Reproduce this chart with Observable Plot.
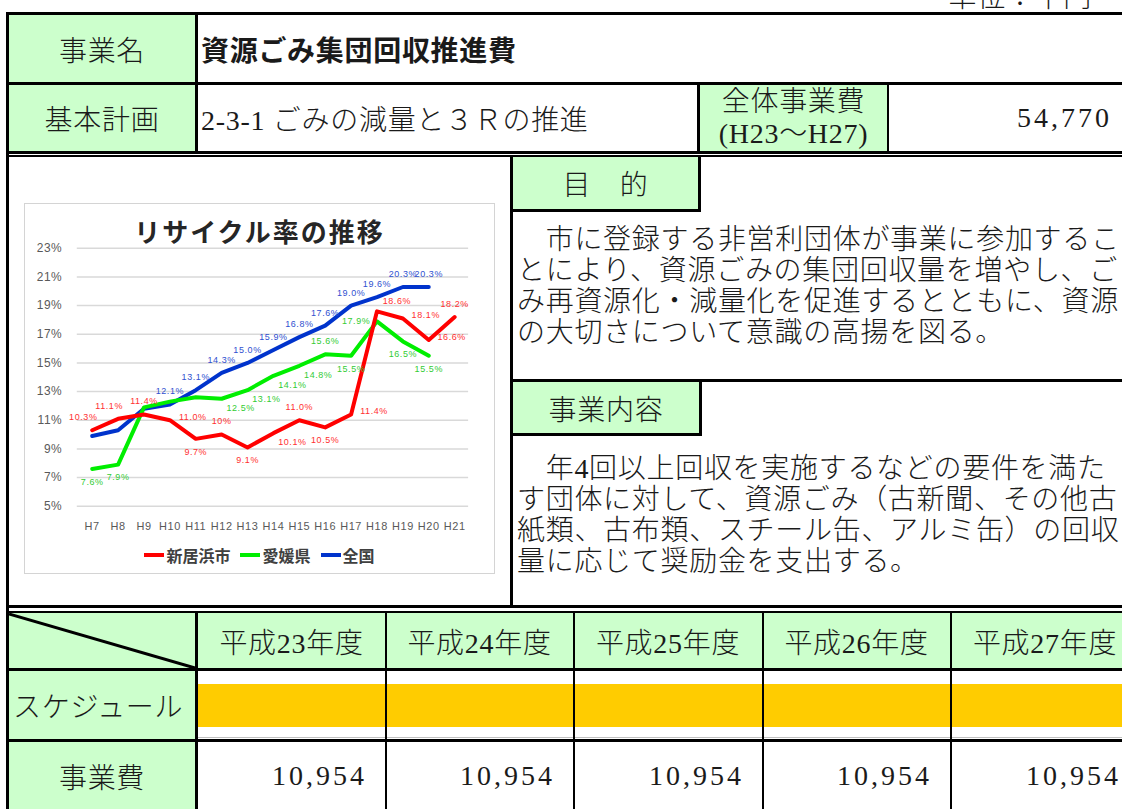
<!DOCTYPE html>
<html><head><meta charset="utf-8">
<script src="https://cdn.jsdelivr.net/npm/d3@7"></script>
<script src="https://cdn.jsdelivr.net/npm/@observablehq/plot@0.6"></script>
<style>
html,body{margin:0;padding:0;background:#fff;}
body{width:1122px;height:809px;overflow:hidden;position:relative;font-family:"Liberation Serif","Noto Sans CJK JP",serif;font-weight:300;color:#1a1a1a;font-size:28px;}
.a{position:absolute;}
.k{position:absolute;background:#000;}
.g{position:absolute;background:#ccffcc;}
.c{position:absolute;display:flex;align-items:center;justify-content:center;white-space:nowrap;letter-spacing:0.7px;}
.l{position:absolute;display:flex;align-items:center;white-space:nowrap;letter-spacing:0.7px;}
.r{position:absolute;display:flex;align-items:center;justify-content:flex-end;white-space:nowrap;letter-spacing:3px;}
#chartbox{position:absolute;left:24px;top:203px;width:471px;height:371px;box-sizing:border-box;border:1.5px solid #d4d4d4;background:#fff;}
#ctitle{position:absolute;left:0;top:8px;width:100%;text-align:center;font-family:"Noto Sans CJK JP",sans-serif;font-weight:700;font-size:26px;letter-spacing:2px;color:#262626;}
#legend{position:absolute;left:0;top:339px;width:100%;display:flex;justify-content:center;align-items:center;font-family:"Noto Sans CJK JP",sans-serif;font-weight:700;font-size:16px;color:#404040;}
#legend span.sw{display:inline-block;width:20px;height:4px;margin-right:2px;}
#legend span.item{display:inline-flex;align-items:center;margin:0 5px;}
</style></head><body>
<div id="page"></div>
<script>
// ---- chart data ----
const years = ["H7","H8","H9","H10","H11","H12","H13","H14","H15","H16","H17","H18","H19","H20","H21"];
const niihama = [10.3,11.1,11.4,11.0,9.7,10.0,9.1,10.1,11.0,10.5,11.4,18.6,18.1,16.6,18.2];
const ehime   = [7.6,7.9,11.9,12.3,12.6,12.5,13.1,14.1,14.8,15.6,15.5,17.9,16.5,15.5,null];
const zenkoku = [9.9,10.3,11.8,12.1,13.1,14.3,15.0,15.9,16.8,17.6,19.0,19.6,20.3,20.3,null];
const niihamaLabels = ["10.3%","11.1%","11.4%","11.0%","9.7%","10%","9.1%","10.1%","11.0%","10.5%","11.4%","18.6%","18.1%","16.6%","18.2%"];
const ehimeLabels   = ["7.6%","7.9%","","","","12.5%","13.1%","14.1%","14.8%","15.6%","15.5%","17.9%","16.5%","15.5%",""];
const zenkokuLabels = ["","","","12.1%","13.1%","14.3%","15.0%","15.9%","16.8%","17.6%","19.0%","19.6%","20.3%","20.3%",""];
const yTicks = [5,7,9,11,13,15,17,19,21,23];
const seriesNames = ["新居浜市","愛媛県","全国"];
const chartTitle = "リサイクル率の推移";

// ---- data-label placement (style config: which side of the point) ----
const niihamaPlace = ["tl","tl","t","r","b","t","b","br","t","b","r","tr","r","r","t"];
const ehimePlace   = ["b","b","","","","br","br","br","br","t","b","l","b","b",""];
const zenkokuPlace = ["t","t","t","t","t","t","t","t","t","t","t","t","t","t","t"];
const placeOffset = {t:[0,-13], b:[0,13], r:[23,-3], l:[-21,0], tr:[20,-10], br:[19,9], tl:[-9,-13]};

// ---- table text ----
const unitText = "単位：千円";
const projectName = "資源ごみ集団回収推進費";
const basicPlan = "2-3-1 ごみの減量と３Ｒの推進";
const totalCost = "54,770";
const purposeLines = ["　市に登録する非営利団体が事業に参加するこ","とにより、資源ごみの集団回収量を増やし、ご","み再資源化・減量化を促進するとともに、資源","の大切さについて意識の高揚を図る。"];
const contentLines = ["　年4回以上回収を実施するなどの要件を満た","す団体に対して、資源ごみ（古新聞、その他古","紙類、古布類、スチール缶、アルミ缶）の回収","量に応じて奨励金を支出する。"];
const fiscalYears = ["平成23年度","平成24年度","平成25年度","平成26年度","平成27年度"];
const yearlyCost = ["10,954","10,954","10,954","10,954","10,954"];

// ---- colours ----
const lineColors = ["#ff0000","#00ee00","#0033cc"];
const labelColors = ["#ff3030","#33cc33","#3050d0"];

// ---- layout ----
const H = [];
const add = s => H.push(s);
add(`<div class="r" style="left:850px;top:-19px;width:242px;height:28px;letter-spacing:0.7px">${unitText}</div>`);
add(`<div class="k" style="left:6px;top:12px;width:1116px;height:3px"></div>`);
add(`<div class="k" style="left:6px;top:12px;width:3px;height:797px"></div>`);
// row 1
add(`<div class="g" style="left:9px;top:15px;width:186px;height:67px"></div>`);
add(`<div class="c" style="left:9px;top:15px;width:186px;height:67px">事業名</div>`);
add(`<div class="l" style="left:201px;top:15px;height:67px;font-weight:700">${projectName}</div>`);
add(`<div class="k" style="left:195px;top:15px;width:3px;height:137px"></div>`);
add(`<div class="k" style="left:9px;top:82px;width:1113px;height:3px"></div>`);
// row 2
add(`<div class="g" style="left:9px;top:85px;width:186px;height:66px"></div>`);
add(`<div class="c" style="left:9px;top:85px;width:186px;height:66px">基本計画</div>`);
add(`<div class="l" style="left:201px;top:85px;height:66px">${basicPlan}</div>`);
add(`<div class="k" style="left:697px;top:85px;width:3px;height:66px"></div>`);
add(`<div class="g" style="left:700px;top:85px;width:187px;height:66px"></div>`);
add(`<div class="c" style="left:700px;top:85px;width:187px;height:66px;flex-direction:column;line-height:32px">全体事業費<br><span>(H23～H27)</span></div>`);
add(`<div class="k" style="left:887px;top:85px;width:2px;height:66px"></div>`);
add(`<div class="r" style="left:889px;top:85px;width:223px;height:66px">${totalCost}</div>`);
add(`<div class="k" style="left:9px;top:151px;width:1113px;height:3px"></div>`);
add(`<div class="k" style="left:9px;top:155px;width:1113px;height:2px"></div>`);
// row 3
add(`<div class="k" style="left:510px;top:157px;width:3px;height:448px"></div>`);
add(`<div class="g" style="left:513px;top:157px;width:185px;height:52px"></div>`);
add(`<div class="c" style="left:513px;top:157px;width:185px;height:52px">目　的</div>`);
add(`<div class="k" style="left:698px;top:157px;width:3px;height:55px"></div>`);
add(`<div class="k" style="left:513px;top:209px;width:188px;height:3px"></div>`);
purposeLines.forEach((t,i)=>add(`<div class="l" style="left:517px;top:${221+31*i}px;height:31px">${t}</div>`));
add(`<div class="k" style="left:513px;top:379px;width:609px;height:3px"></div>`);
add(`<div class="g" style="left:513px;top:382px;width:186px;height:51px"></div>`);
add(`<div class="c" style="left:513px;top:382px;width:186px;height:51px">事業内容</div>`);
add(`<div class="k" style="left:699px;top:382px;width:3px;height:54px"></div>`);
add(`<div class="k" style="left:513px;top:433px;width:189px;height:3px"></div>`);
contentLines.forEach((t,i)=>add(`<div class="l" style="left:517px;top:${450+31*i}px;height:31px">${t}</div>`));
add(`<div class="k" style="left:9px;top:605px;width:1113px;height:3px"></div>`);
add(`<div class="k" style="left:9px;top:611px;width:1113px;height:2px"></div>`);
// row 4
const colX = [198,386,574,763,951];
const colW = [187,187,188,187,188];
add(`<div class="g" style="left:9px;top:613px;width:1113px;height:55px"></div>`);
add(`<svg class="a" style="left:9px;top:613px" width="187" height="56"><line x1="0" y1="1" x2="186" y2="55" stroke="#000" stroke-width="3"/></svg>`);
fiscalYears.forEach((t,i)=>add(`<div class="c" style="left:${colX[i]}px;top:613px;width:${colW[i]}px;height:55px">${t}</div>`));
add(`<div class="k" style="left:9px;top:668px;width:1113px;height:3px"></div>`);
// row 5
add(`<div class="g" style="left:9px;top:671px;width:186px;height:68px"></div>`);
add(`<div class="l" style="left:13px;top:671px;height:68px">スケジュール</div>`);
add(`<div class="a" style="left:198px;top:684px;width:924px;height:43px;background:#ffcc00"></div>`);
add(`<div class="a" style="left:198px;top:737px;width:924px;height:1px;background:#bfbfbf"></div>`);
add(`<div class="k" style="left:9px;top:739px;width:1113px;height:3px"></div>`);
// row 6
add(`<div class="g" style="left:9px;top:742px;width:186px;height:67px"></div>`);
add(`<div class="c" style="left:9px;top:742px;width:186px;height:67px">事業費</div>`);
yearlyCost.forEach((t,i)=>add(`<div class="r" style="left:${colX[i]}px;top:742px;width:${colW[i]-18}px;height:67px">${t}</div>`));
add(`<div class="k" style="left:195px;top:613px;width:3px;height:196px"></div>`);
[385,573,762,950].forEach(x=>add(`<div class="k" style="left:${x}px;top:613px;width:1.5px;height:196px"></div>`));
// chart box
add(`<div id="chartbox"><div id="ctitle">${chartTitle}</div><div id="legend">${seriesNames.map((n,i)=>`<span class="item"><span class="sw" style="background:${lineColors[i]}"></span>${n}</span>`).join("")}</div></div>`);
document.getElementById("page").innerHTML = H.join("");

// ---- chart ----
const mk = (vals, labels, place) => years.map((year,i)=>({year, v: vals[i], label: labels[i], place: place[i]})).filter(d=>d.v!=null);
const R = mk(niihama, niihamaLabels, niihamaPlace), G = mk(ehime, ehimeLabels, ehimePlace), B = mk(zenkoku, zenkokuLabels, zenkokuPlace);
const labelMarks = (rows, color) => Object.keys(placeOffset).map(p => Plot.text(rows.filter(d => d.label && d.place === p), {
  x: "year", y: "v", text: "label", dx: placeOffset[p][0], dy: placeOffset[p][1], fill: color, fontSize: 9
}));

const chart = Plot.plot({
  width: 471, height: 371,
  marginLeft: 53, marginRight: 25, marginTop: 45, marginBottom: 67,
  style: {fontFamily: "Liberation Sans, Arial, sans-serif", fontSize: "12px", color: "#595959", background: "transparent", overflow: "visible", letterSpacing: "0.6px"},
  x: {type: "point", domain: years, padding: 0.5},
  y: {domain: [5, 23]},
  marks: [
    Plot.gridY(yTicks, {stroke: "#d9d9d9", strokeOpacity: 1, strokeWidth: 1.5}),
    Plot.axisY(yTicks, {tickSize: 0, tickPadding: 15, tickFormat: d => d + "%", label: null}),
    Plot.axisX({tickSize: 0, tickPadding: 16, label: null, fontSize: 11}),
    Plot.line(B, {x: "year", y: "v", stroke: lineColors[2], strokeWidth: 4, strokeLinejoin: "round"}),
    Plot.line(G, {x: "year", y: "v", stroke: lineColors[1], strokeWidth: 4, strokeLinejoin: "round"}),
    Plot.line(R, {x: "year", y: "v", stroke: lineColors[0], strokeWidth: 4, strokeLinejoin: "round"}),
    ...labelMarks(B, labelColors[2]),
    ...labelMarks(G, labelColors[1]),
    ...labelMarks(R, labelColors[0])
  ]
});
chart.style.position = "absolute";
chart.style.left = "-1.5px";
chart.style.top = "-1.5px";
document.getElementById("chartbox").appendChild(chart);
</script>
</body></html>
